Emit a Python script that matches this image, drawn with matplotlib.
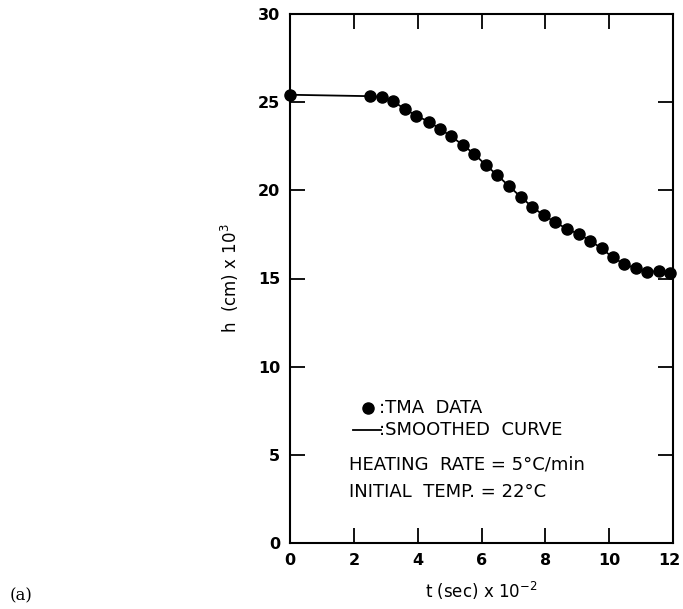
import matplotlib.pyplot as plt
import matplotlib.transforms as mtransforms
import numpy as np

# TMA 测量数据 (t 单位 1e2 s, h 单位 1e-3 cm)
t_data = [0.0, 2.50, 2.87, 3.24, 3.59, 3.95, 4.34, 4.69, 5.05, 5.41,
          5.78, 6.13, 6.49, 6.86, 7.23, 7.59, 7.95, 8.31, 8.68, 9.04,
          9.40, 9.76, 10.11, 10.47, 10.83, 11.19, 11.56, 11.91]
h_data = [25.42, 25.34, 25.29, 25.04, 24.62, 24.24, 23.90, 23.50, 23.06, 22.58,
          22.05, 21.44, 20.87, 20.24, 19.63, 19.06, 18.58, 18.20, 17.80, 17.53,
          17.15, 16.71, 16.20, 15.82, 15.57, 15.38, 15.42, 15.34]

x_ticks = [0, 2, 4, 6, 8, 10, 12]
y_ticks = [0, 5, 10, 15, 20, 25, 30]

plt.rcParams['mathtext.default'] = 'regular'
plt.rcParams['font.family'] = ['DejaVu Sans']

fig = plt.figure(figsize=(6.83, 6.09), dpi=100)
ax = fig.add_axes([290 / 683, 66 / 609, 383 / 683, 529 / 609])

# 平滑曲线 + 数据点
ax.plot(t_data, h_data, color='black', linewidth=1.3, zorder=2)
ax.plot(t_data, h_data, 'o', color='black', markersize=8, zorder=3,
        clip_on=False)

# 图中说明文字
ax.plot([2.44], [7.67], 'o', color='black', markersize=8)
ax.text(2.80, 7.67, ':TMA  DATA', fontsize=13, va='center', ha='left')
ax.plot([1.97, 2.85], [6.4, 6.4], color='black', linewidth=1.3)
ax.text(2.80, 6.4, ':SMOOTHED  CURVE', fontsize=13, va='center', ha='left')
ax.text(1.85, 4.43, 'HEATING  RATE = 5°C/min', fontsize=13, va='center', ha='left')
ax.text(1.85, 2.9, 'INITIAL  TEMP. = 22°C', fontsize=13, va='center', ha='left')

# 坐标轴范围和刻度
ax.set_xlim(0, 12)
ax.set_ylim(0, 30)
ax.set_xticks(x_ticks)
ax.set_yticks(y_ticks)
ax.tick_params(direction='in', length=11, width=1.3, top=True, right=True,
               labelsize=11.5, pad=7)
for lab in ax.get_xticklabels() + ax.get_yticklabels():
    lab.set_fontweight('bold')
# 最右边的 "12" 稍微左移, 免得被裁掉
last = ax.get_xticklabels()[-1]
last.set_transform(last.get_transform() +
                   mtransforms.ScaledTranslation(-4 / 100, 0, fig.dpi_scale_trans))
for s in ax.spines.values():
    s.set_linewidth(1.5)

ax.set_xlabel('t (sec) x 10$^{-2}$', fontsize=12, labelpad=9)
ax.set_ylabel('h  (cm) x 10$^{3}$', fontsize=12, labelpad=12)

fig.text(10 / 683, 1 - 596 / 609, '(a)', fontsize=12, family='DejaVu Serif',
         va='center', ha='left')

fig.savefig('out.png', dpi=100)
